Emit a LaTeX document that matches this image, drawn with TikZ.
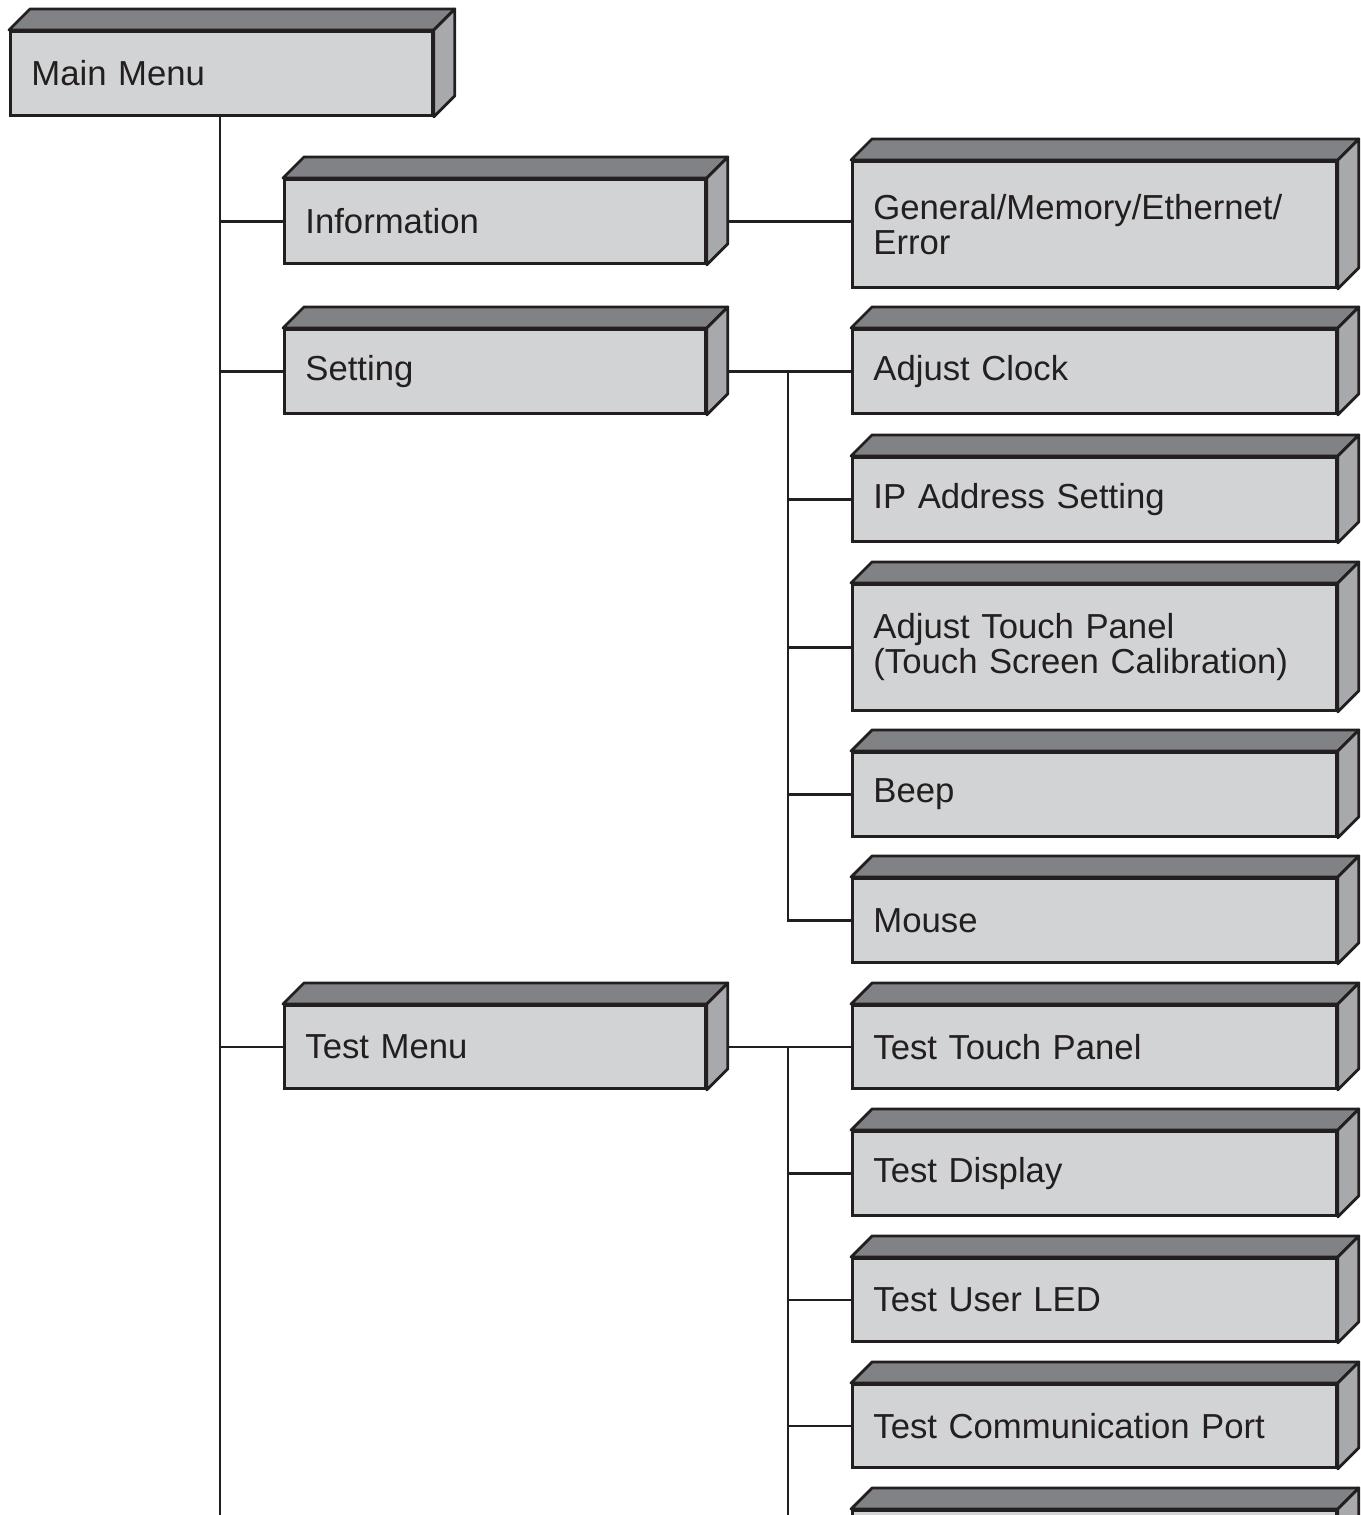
\documentclass[tikz,border=0pt]{standalone}
\usepackage{fontspec}
\setmainfont{Liberation Sans}
\usetikzlibrary{calc}
\definecolor{frontc}{HTML}{D1D3D4}
\definecolor{topc}{HTML}{808285}
\definecolor{sidec}{HTML}{A7A9AC}
\definecolor{inkc}{HTML}{231F20}
\tikzset{
  menubox/.style={draw=inkc, fill=frontc, line width=2.8pt, rectangle, anchor=north west,
    inner xsep=21pt, inner ysep=0pt, align=left, text=inkc,
    font=\fontsize{34.7}{35}\selectfont},
  topface/.style={draw=inkc, fill=topc, line width=2.8pt, line join=round},
  sideface/.style={draw=inkc, fill=sidec, line width=2.8pt, line join=round},
  conn/.style={draw=inkc, line width=2.6pt}
}
\newcommand{\cubebox}[6]{% name, x1, y1, x2, y2, text
  \pgfmathsetmacro{\bw}{#4-#2-1.4}\pgfmathsetmacro{\bh}{#5-#3}\pgfmathsetmacro{\tw}{#4-#2-42}
  \node[menubox, minimum width=\bw pt, minimum height=\bh pt, text width=\tw pt] (#1) at (#2,-#3-1) {#6};
  \draw[topface] (#1.north west) -- ++(21,21) -- ($(#1.north east)+(21,21)$) -- (#1.north east) -- cycle;
  \draw[sideface] (#1.north east) -- ++(21,21) -- ($(#1.south east)+(21,21)$) -- (#1.south east) -- cycle;
  \coordinate (#1-side) at ($(#1.east)+(21,0)$);
}
\begin{document}
\begin{tikzpicture}[x=1pt,y=1pt]
\useasboundingbox (0,0) rectangle (1360,-1515);
\clip (0,0) rectangle (1360,-1515);
\coordinate (mainend) at (220,-1515);
\coordinate (testend) at (788,-1515);
\coordinate (sbus) at (788,0);
\cubebox{main}{9}{29}{431}{113}{Main Menu}
\cubebox{info}{283}{177}{704}{261}{Information}
\cubebox{gen}{851}{159}{1335}{285}{General/Memory/Ethernet/\\Error}
\cubebox{setting}{283}{327}{704}{411}{Setting}
\cubebox{clock}{851}{327}{1335}{411}{Adjust Clock}
\cubebox{ip}{851}{455}{1335}{539}{IP Address Setting}
\cubebox{touch}{851}{582}{1335}{708}{Adjust Touch Panel\\(Touch Screen Calibration)}
\cubebox{beep}{851}{750}{1335}{834}{Beep}
\cubebox{mouse}{851}{876}{1335}{960}{Mouse}
\cubebox{test}{283}{1003}{704}{1086}{Test Menu}
\cubebox{ttp}{851}{1003}{1335}{1086}{Test Touch Panel}
\cubebox{tdisp}{851}{1129}{1335}{1213}{Test Display}
\cubebox{tled}{851}{1256}{1335}{1339}{Test User LED}
\cubebox{tcomm}{851}{1382}{1335}{1465}{Test Communication Port}
\cubebox{tnext}{851}{1508}{1335}{1592}{}
% main trunk
\draw[conn] (main.south -| mainend) -- (mainend);
\draw[conn] (info.west -| mainend) -- (info.west);
\draw[conn] (setting.west -| mainend) -- (setting.west);
\draw[conn] (test.west -| mainend) -- (test.west);
% information
\draw[conn] (info-side) -- (info-side -| gen.west);
% setting bus
\draw[conn] (setting-side) -- (clock.west);
\draw[conn] (clock.west -| sbus) -- (mouse.west -| sbus) -- (mouse.west);
\draw[conn] (ip.west -| sbus) -- (ip.west);
\draw[conn] (touch.west -| sbus) -- (touch.west);
\draw[conn] (beep.west -| sbus) -- (beep.west);
% test bus
\draw[conn] (test-side) -- (ttp.west);
\draw[conn] (ttp.west -| testend) -- (testend);
\draw[conn] (tdisp.west -| testend) -- (tdisp.west);
\draw[conn] (tled.west -| testend) -- (tled.west);
\draw[conn] (tcomm.west -| testend) -- (tcomm.west);
\end{tikzpicture}
\end{document}
